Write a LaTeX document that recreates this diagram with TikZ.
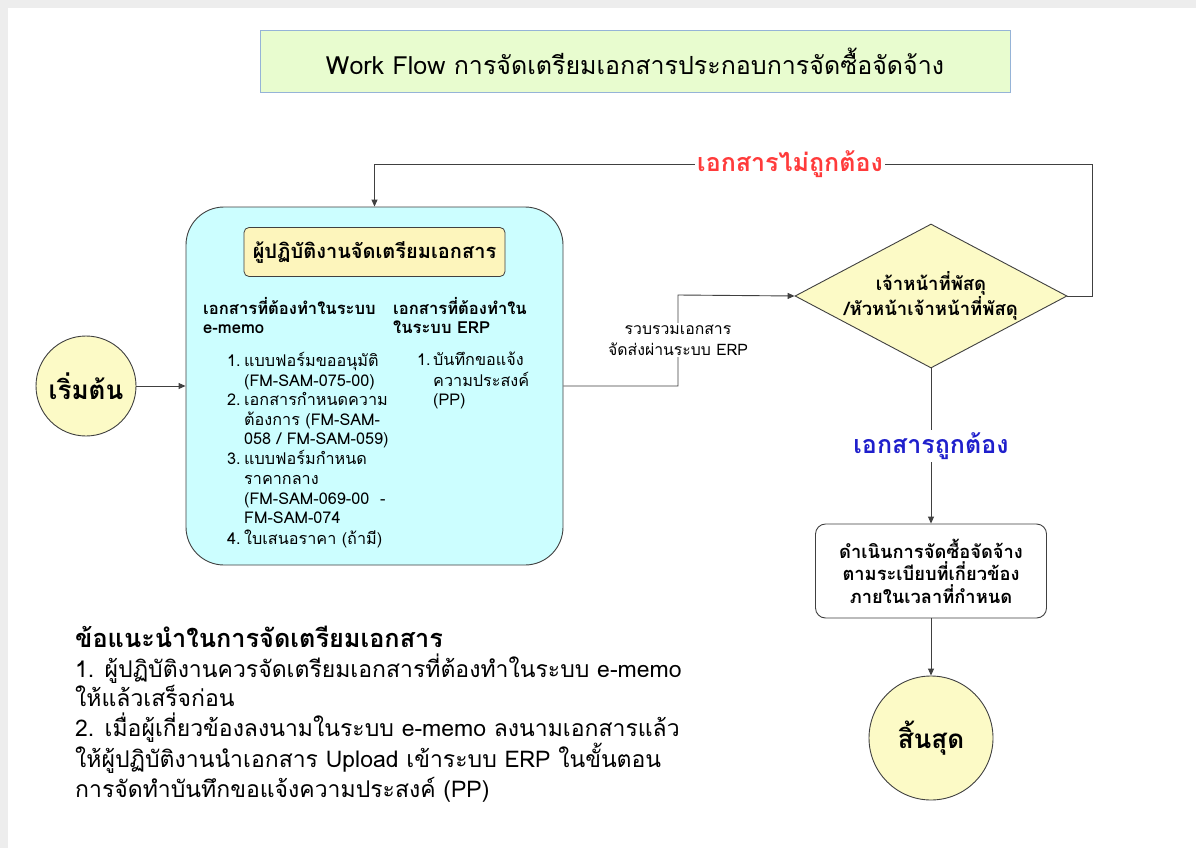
\documentclass[tikz,border=0pt]{standalone}
\usepackage{fontspec}
\setmainfont[Script=Thai]{Loma}
\usetikzlibrary{shapes.geometric,arrows.meta}
\definecolor{lnc}{HTML}{404040}
\definecolor{titlefill}{HTML}{E8FCCF}
\definecolor{titleedge}{HTML}{95B3D7}
\definecolor{yel}{HTML}{FCFAC6}
\definecolor{cyanfill}{HTML}{CCFEFF}
\definecolor{hdrfill}{HTML}{FDF5BC}
\definecolor{redtxt}{HTML}{FF3B3B}
\definecolor{bluetxt}{HTML}{1F1FCC}
\tikzset{
  arr/.style={draw=lnc, line width=0.9pt, -{Triangle[length=7pt,width=6pt]}},
  conn/.style={draw=lnc, line width=0.9pt},
  term/.style={circle, draw=lnc, line width=0.9pt, fill=yel, inner sep=0pt},
  lbl/.style={fill=white, inner sep=2pt, align=center},
}
\newcommand{\fsz}[2]{\fontsize{#1}{#2}\selectfont}
\begin{document}
\begin{tikzpicture}[x=1pt,y=-1pt]
\useasboundingbox (0,0) rectangle (1198,848);
\fill[white] (0,0) rectangle (1198,848);
\fill[black!7] (0,0) rectangle (1196,8);
\fill[black!7] (0,0) rectangle (8,848);
% title
\node[draw=titleedge, line width=0.8pt, fill=titlefill, minimum width=750pt, minimum height=62pt, inner sep=0pt, font=\fsz{25}{29}] (title) at (635,61) {Work Flow การจัดเตรียมเอกสารประกอบการจัดซื้อจัดจ้าง};
% start
\node[term, minimum size=100pt, font=\bfseries\fsz{26}{30}] (start) at (86,386) {เริ่มต้น};
% main box
\node[draw=lnc, line width=0.9pt, fill=cyanfill, rounded corners=38pt, minimum width=377pt, minimum height=358pt, inner sep=0pt] (main) at (374.5,386) {};
\node[draw=lnc, line width=0.8pt, fill=hdrfill, rounded corners=5pt, minimum width=261pt, minimum height=49pt, inner sep=0pt, font=\bfseries\fsz{20}{24}] (header) at (374.5,252) {ผู้ปฏิบัติงานจัดเตรียมเอกสาร};
\node[anchor=north west, inner sep=0pt, align=left, font=\bfseries\fsz{16.6}{19.5}] (c1h) at (203,297) {เอกสารที่ต้องทำในระบบ\\e-memo};
\node[anchor=north west, inner sep=0pt, align=left, font=\bfseries\fsz{16.6}{19.5}] (c2h) at (393,297) {เอกสารที่ต้องทำใน\\ในระบบ ERP};
\node[anchor=north west, inner sep=0pt, font=\fsz{16.2}{19.6}] (list1) at (227,352) {%
\begin{tabular}{@{}p{17pt}@{}l@{}}
1. & แบบฟอร์มขออนุมัติ\\
   & (FM-SAM-075-00)\\
2. & เอกสารกำหนดความ\\
   & ต้องการ (FM-SAM-\\
   & 058 / FM-SAM-059)\\
3. & แบบฟอร์มกำหนด\\
   & ราคากลาง\\
   & (FM-SAM-069-00~~-\\
   & FM-SAM-074\\
4. & ใบเสนอราคา (ถ้ามี)
\end{tabular}};
\node[anchor=north west, inner sep=0pt, font=\fsz{16.2}{19.6}] (list2) at (417,352) {%
\begin{tabular}{@{}p{16pt}@{}l@{}}
1. & บันทึกขอแจ้ง\\
   & ความประสงค์\\
   & (PP)
\end{tabular}};
% diamond
\node[diamond, draw=lnc, line width=0.9pt, fill=yel, aspect=1.89, minimum width=272pt, minimum height=144pt, inner sep=0pt, align=center, font=\bfseries\fsz{18.5}{22}] (dia) at (931,296) {เจ้าหน้าที่พัสดุ\\/หัวหน้าเจ้าหน้าที่พัสดุ};
% process
\node[draw=lnc, line width=0.9pt, fill=white, rounded corners=10pt, minimum width=231pt, minimum height=94pt, inner sep=0pt, align=center, font=\bfseries\fsz{18.3}{22.5}] (proc) at (931,571) {ดำเนินการจัดซื้อจัดจ้าง\\ตามระเบียบที่เกี่ยวข้อง\\ภายในเวลาที่กำหนด};
% end
\node[term, minimum size=124pt, font=\bfseries\fsz{26}{30}] (fin) at (931,738) {สิ้นสุด};
% connectors
\coordinate (k) at (678,295);
\coordinate (r) at (1092,164);
\draw[arr] (start.east) -- (start.east -| main.west);
\draw[arr] (main.east) -| (k) -- (dia.west);
\draw[arr] (dia.east) -| (r) -| (main.north);
\draw[arr] (dia.south) -- (proc.north);
\draw[arr] (proc.south) -- (fin.north);
% labels
\node[lbl, font=\fsz{15.8}{21}] (lsend) at (678,340) {รวบรวมเอกสาร\\จัดส่งผ่านระบบ ERP};
\node[lbl, text=redtxt, font=\bfseries\fsz{25}{29}] (lbad) at (790,164) {เอกสารไม่ถูกต้อง};
\node[lbl, text=bluetxt, font=\bfseries\fsz{25}{29}] (lok) at (931,446) {เอกสารถูกต้อง};
% notes
\node[anchor=north west, inner sep=0pt, align=left, font=\fsz{23}{29.5}] (notes) at (75,626) {{\bfseries\fsz{25.3}{32}ข้อแนะนำในการจัดเตรียมเอกสาร}\\
1. ผู้ปฏิบัติงานควรจัดเตรียมเอกสารที่ต้องทำในระบบ e-memo\\
ให้แล้วเสร็จก่อน\\
2. เมื่อผู้เกี่ยวข้องลงนามในระบบ e-memo ลงนามเอกสารแล้ว\\
ให้ผู้ปฏิบัติงานนำเอกสาร Upload เข้าระบบ ERP ในขั้นตอน\\
การจัดทำบันทึกขอแจ้งความประสงค์ (PP)};
\end{tikzpicture}
\end{document}
